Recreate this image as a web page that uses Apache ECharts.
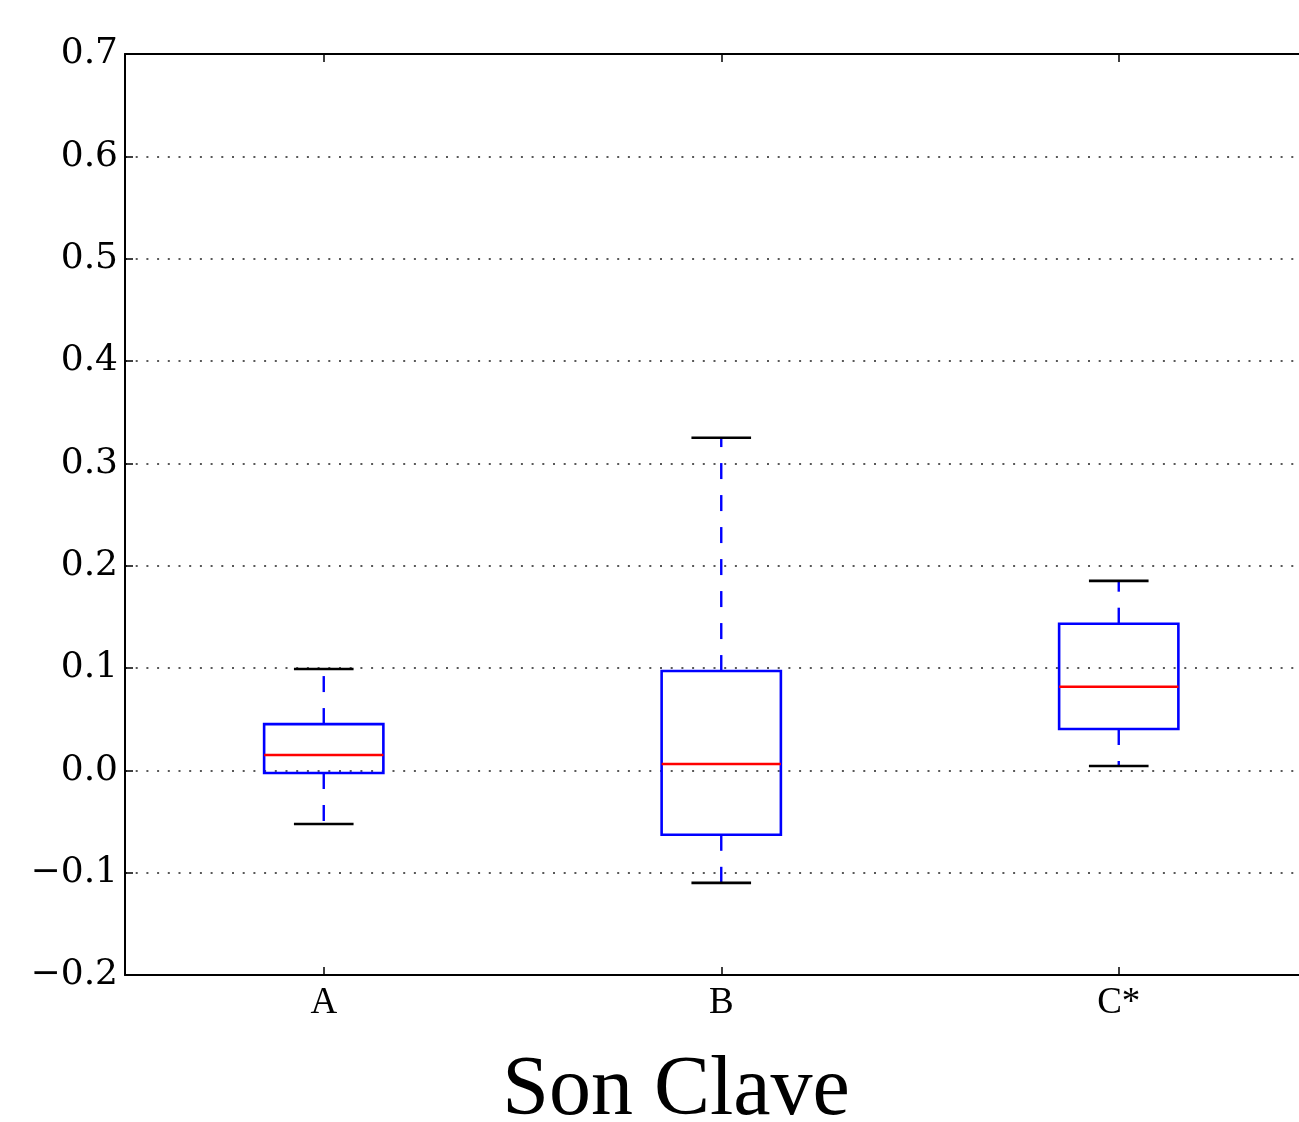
<!DOCTYPE html>
<html>
<head>
<meta charset="utf-8">
<script src="https://cdn.jsdelivr.net/npm/echarts@6/dist/echarts.min.js"></script>
<style>
  html, body { margin: 0; padding: 0; background: #fff; }
  #chart { width: 1299px; height: 1122px; }
</style>
</head>
<body>
<div id="chart"></div>
<script>
// Box-plot statistics per group
const categories = ['A', 'B', 'C*'];
const lowerWhisker = [-0.0525, -0.110, 0.0042];
const quartile1   = [-0.0026, -0.063, 0.0404];
const medians     = [0.015, 0.0062, 0.0817];
const quartile3   = [0.0452, 0.097, 0.1433];
const upperWhisker = [0.099, 0.325, 0.1851];

const yMin = -0.2, yMax = 0.7, yStep = 0.1;
const xTitle = 'Son Clave';

const boxData = categories.map((c, i) => [i, lowerWhisker[i], quartile1[i], medians[i], quartile3[i], upperWhisker[i]]);

const BLUE = '#0000ff', RED = '#ff0000', BLACK = '#000000';

function renderBox(params, api) {
  const idx = api.value(0);
  const band = api.size([1, 0])[0];
  const halfBox = band * 0.15;
  const halfCap = band * 0.075;
  const pLow = api.coord([idx, api.value(1)]);
  const pQ1 = api.coord([idx, api.value(2)]);
  const pMed = api.coord([idx, api.value(3)]);
  const pQ3 = api.coord([idx, api.value(4)]);
  const pHigh = api.coord([idx, api.value(5)]);
  const x = pMed[0];
  const dashed = { stroke: BLUE, lineWidth: 2.4, lineDash: [16, 16] };
  return {
    type: 'group',
    children: [
      { type: 'line', shape: { x1: x, y1: pQ3[1], x2: x, y2: pHigh[1] }, style: dashed },
      { type: 'line', shape: { x1: x, y1: pQ1[1], x2: x, y2: pLow[1] }, style: dashed },
      { type: 'rect', shape: { x: x - halfBox, y: pQ3[1], width: halfBox * 2, height: pQ1[1] - pQ3[1] },
        style: { fill: null, stroke: BLUE, lineWidth: 2.6 } },
      { type: 'line', shape: { x1: x - halfBox, y1: pMed[1], x2: x + halfBox, y2: pMed[1] },
        style: { stroke: RED, lineWidth: 2.6 } },
      { type: 'line', shape: { x1: x - halfCap, y1: pHigh[1], x2: x + halfCap, y2: pHigh[1] },
        style: { stroke: BLACK, lineWidth: 2.6 } },
      { type: 'line', shape: { x1: x - halfCap, y1: pLow[1], x2: x + halfCap, y2: pLow[1] },
        style: { stroke: BLACK, lineWidth: 2.6 } }
    ]
  };
}

const chart = echarts.init(document.getElementById('chart'), null, { renderer: 'canvas' });

const axisLineStyle = { show: true, onZero: false, lineStyle: { color: BLACK, width: 2 } };

chart.setOption({
  animation: false,
  backgroundColor: '#ffffff',
  // the right-hand part of the axes runs past the canvas edge
  grid: { left: 125, top: 54, width: 1192.5, bottom: 147, containLabel: false, outerBoundsMode: 'none' },
  xAxis: [
    {
      type: 'category',
      data: categories,
      position: 'bottom',
      axisLine: axisLineStyle,
      axisTick: { show: true, inside: true, alignWithLabel: true, length: 8, lineStyle: { color: BLACK, width: 1.5 } },
      axisLabel: { fontFamily: 'Liberation Serif', fontSize: 37, color: BLACK, margin: 10 },
      splitLine: { show: false }
    },
    {
      type: 'category',
      data: categories,
      position: 'top',
      axisLine: axisLineStyle,
      axisTick: { show: true, inside: true, alignWithLabel: true, length: 8, lineStyle: { color: BLACK, width: 1.5 } },
      axisLabel: { show: false },
      splitLine: { show: false }
    }
  ],
  yAxis: {
    type: 'value',
    min: yMin,
    max: yMax,
    interval: yStep,
    axisLine: axisLineStyle,
    axisTick: { show: true, inside: true, length: 8, lineStyle: { color: BLACK, width: 1.5 } },
    axisLabel: {
      fontFamily: 'DejaVu Serif',
      fontSize: 36,
      color: BLACK,
      margin: 7,
      formatter: v => (v < -1e-9 ? '\u2212' : '') + Math.abs(v).toFixed(1)
    },
    splitLine: { show: true, lineStyle: { color: '#222', width: 1.5, type: [2, 8.7] } }
  },
  series: [{
    type: 'custom',
    xAxisIndex: 0,
    renderItem: renderBox,
    encode: { x: 0, y: [1, 2, 3, 4, 5] },
    data: boxData,
    z: 5
  }],
  graphic: [{
    type: 'text',
    x: 676,
    y: 1092,
    style: {
      text: xTitle,
      font: '84px "Liberation Serif"',
      fill: BLACK,
      align: 'center',
      verticalAlign: 'middle'
    }
  }]
});
</script>
</body>
</html>
